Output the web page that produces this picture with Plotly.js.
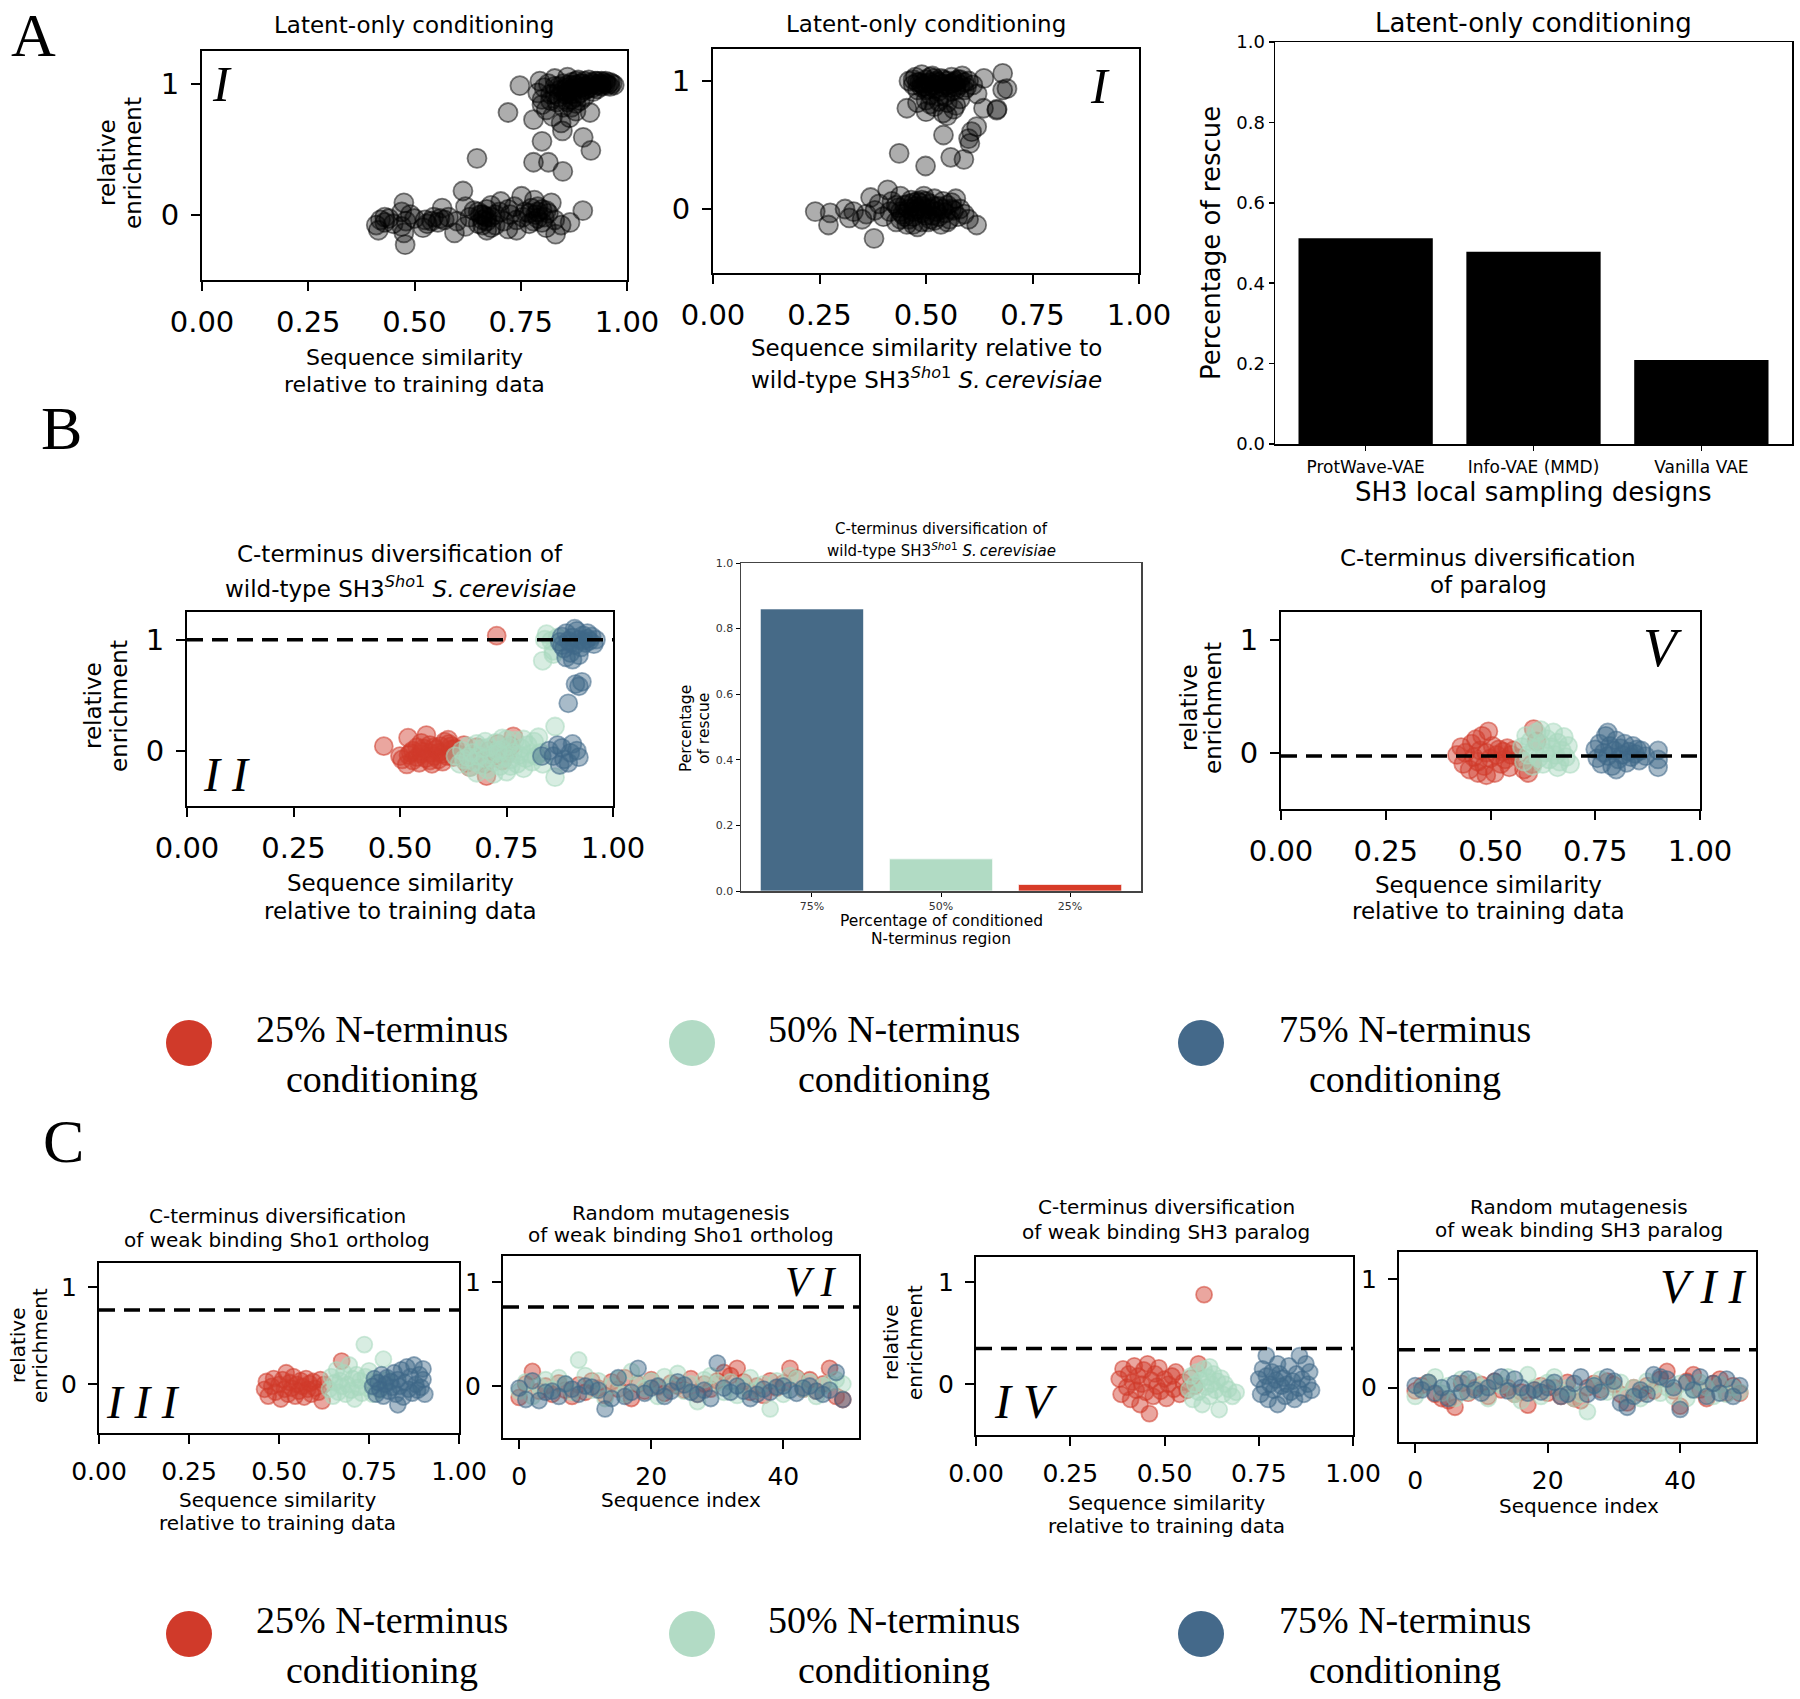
<!DOCTYPE html>
<html><head><meta charset="utf-8">
<script src="https://cdn.plot.ly/plotly-3.0.1.min.js"></script>
<style>html,body{margin:0;padding:0;background:#fff;}#chart{width:1800px;height:1699px;}</style>
</head><body><div id="chart"></div>
<script>
// ---------------- DATA ----------------
const simTickVals = [0, 0.25, 0.5, 0.75, 1];
const simTickText = ['0.00', '0.25', '0.50', '0.75', '1.00'];
const enrTickVals = [0, 1];
const enrTickText = ['0', '1'];
const idxTickVals = [0, 20, 40];
const fracTickVals = [0, 0.2, 0.4, 0.6, 0.8, 1.0];
const fracTickText = ['0.0', '0.2', '0.4', '0.6', '0.8', '1.0'];

// Panel A (I): similarity to training data vs relative enrichment
const a1Points = [
 [0.748,0.985],[0.72,0.78],[0.78,0.725],[0.79,0.93],[0.795,1.02],[0.80,0.88],[0.805,0.97],[0.81,0.80],[0.815,1.0],[0.82,0.92],
 [0.825,0.75],[0.83,0.98],[0.83,1.04],[0.835,0.86],[0.84,0.95],[0.845,0.70],[0.848,0.64],[0.85,1.0],[0.85,0.82],[0.855,0.92],
 [0.86,1.05],[0.86,0.97],[0.865,0.74],[0.87,0.88],[0.87,1.01],[0.875,0.95],[0.88,0.99],[0.88,0.79],[0.885,1.03],[0.89,0.93],
 [0.89,0.97],[0.895,1.0],[0.90,0.90],[0.90,1.02],[0.905,0.96],[0.91,0.99],[0.913,0.78],[0.915,1.01],[0.92,0.97],[0.925,1.02],
 [0.93,0.99],[0.935,1.0],[0.94,0.98],[0.945,1.01],[0.95,1.0],[0.955,0.99],[0.96,1.01],[0.965,1.0],[0.97,0.99],[0.86,0.86],
 [0.84,0.90],[0.80,0.84],[0.87,0.92],[0.92,0.94],[0.88,0.85],[0.90,0.98],[0.91,1.03],[0.94,1.02],[0.93,0.96],[0.87,0.99],
 [0.86,0.99],[0.87,0.96],[0.88,1.02],[0.89,1.0],[0.90,0.95],[0.91,0.97],[0.92,1.0],[0.93,1.02],[0.94,0.99],[0.95,1.02],
 [0.96,0.98],[0.85,0.95],[0.84,0.98],[0.83,0.92],[0.82,0.87],[0.86,0.93],[0.88,0.90],[0.89,0.87],[0.85,0.88],[0.87,0.82],
 [0.647,0.43],[0.80,0.56],[0.78,0.40],[0.815,0.40],[0.849,0.33],[0.897,0.59],[0.915,0.49],
 [0.41,-0.08],[0.415,-0.12],[0.42,-0.04],[0.43,-0.06],[0.44,-0.03],[0.45,-0.07],[0.47,0.02],[0.475,0.09],[0.475,-0.14],[0.478,-0.23],
 [0.48,-0.05],[0.49,0.0],[0.50,-0.03],[0.52,-0.10],[0.525,-0.04],[0.53,-0.07],[0.545,-0.02],[0.555,-0.06],[0.565,0.05],[0.57,-0.04],
 [0.58,-0.02],[0.594,-0.14],[0.60,-0.05],[0.614,0.18],[0.62,0.06],[0.63,-0.02],[0.64,0.03],[0.65,-0.07],[0.655,0.0],[0.66,-0.04],
 [0.664,-0.01],[0.67,0.04],[0.67,-0.12],[0.68,-0.02],[0.69,-0.08],[0.70,0.02],[0.703,0.10],[0.71,-0.05],[0.72,-0.11],[0.725,0.0],
 [0.735,0.06],[0.74,-0.04],[0.752,0.14],[0.755,-0.02],[0.76,0.02],[0.77,-0.07],[0.775,0.05],[0.782,0.11],[0.785,0.0],[0.79,-0.03],
 [0.80,0.04],[0.805,-0.02],[0.81,-0.1],[0.815,0.01],[0.822,0.09],[0.83,-0.04],[0.832,-0.15],[0.845,-0.08],[0.866,-0.06],[0.896,0.03],
 [0.62,-0.09],[0.68,0.07],[0.74,-0.12],[0.66,0.0],[0.67,-0.05],[0.79,0.02],[0.80,-0.06],
 [0.66,-0.08],[0.67,-0.02],[0.68,-0.1],[0.65,0.02],[0.78,-0.05],[0.79,0.06],[0.81,0.03],[0.77,0.01],[0.72,0.04],[0.69,0.0],
 [0.56,-0.03],[0.54,-0.05],[0.47,-0.09],[0.43,-0.02]
];

// Panel A (I): similarity to wild-type vs relative enrichment
const a2Points = [
 [0.46,1.0],[0.47,0.97],[0.475,1.03],[0.48,0.93],[0.485,0.99],[0.49,1.05],[0.495,0.96],[0.50,1.01],[0.50,0.85],[0.505,0.94],
 [0.51,0.99],[0.515,1.04],[0.52,0.97],[0.52,0.80],[0.525,1.0],[0.53,0.92],[0.535,1.02],[0.54,0.98],[0.54,0.75],[0.545,0.88],
 [0.55,1.0],[0.555,0.95],[0.56,1.03],[0.565,0.99],[0.565,0.78],[0.57,0.93],[0.575,1.01],[0.58,0.97],[0.585,1.04],[0.59,0.99],
 [0.595,0.95],[0.60,1.0],[0.61,0.97],[0.62,0.9],[0.48,0.83],[0.50,0.76],[0.53,0.84],[0.55,0.73],[0.51,0.89],[0.58,0.86],
 [0.49,0.98],[0.52,1.02],[0.54,0.95],[0.56,0.98],[0.50,0.93],[0.57,1.0],
 [0.47,1.01],[0.48,0.99],[0.49,0.95],[0.50,0.98],[0.51,1.03],[0.52,0.94],[0.53,0.99],[0.54,1.01],[0.55,0.97],[0.56,0.92],
 [0.57,0.96],[0.58,1.01],[0.59,0.93],[0.53,0.88],[0.51,0.82],[0.55,0.83],[0.57,0.81],
 [0.455,0.787],[0.636,1.02],[0.68,1.06],[0.69,0.94],[0.68,0.93],[0.635,0.787],[0.666,0.773],[0.667,0.78],
 [0.437,0.435],[0.499,0.336],[0.541,0.578],[0.558,0.404],[0.589,0.388],[0.603,0.513],[0.607,0.604],[0.619,0.643],[0.60,0.55],
 [0.24,-0.02],[0.271,-0.125],[0.275,-0.03],[0.31,0.0],[0.32,-0.07],[0.33,-0.02],[0.35,-0.08],[0.36,-0.04],[0.37,0.09],[0.378,-0.23],
 [0.38,-0.01],[0.39,0.04],[0.40,-0.06],[0.41,0.15],[0.415,-0.02],[0.42,0.06],[0.43,-0.1],[0.435,0.01],[0.44,0.1],[0.445,-0.04],
 [0.45,0.03],[0.455,-0.12],[0.46,0.0],[0.465,0.07],[0.47,-0.06],[0.475,0.02],[0.48,-0.14],[0.485,0.05],[0.49,-0.03],[0.495,0.1],
 [0.50,0.0],[0.505,-0.1],[0.51,0.04],[0.515,-0.05],[0.52,0.08],[0.525,-0.02],[0.53,0.02],[0.535,-0.12],[0.54,0.06],[0.545,-0.03],
 [0.55,0.03],[0.555,-0.08],[0.56,0.05],[0.565,-0.01],[0.57,0.08],[0.575,-0.06],[0.58,0.0],[0.59,-0.04],[0.60,-0.08],[0.619,-0.125],
 [0.46,-0.08],[0.48,0.0],[0.50,0.06],[0.47,0.05],[0.52,-0.09],[0.44,-0.02],[0.49,-0.1],[0.51,0.0],
 [0.45,-0.06],[0.46,0.04],[0.47,-0.02],[0.48,0.06],[0.49,0.02],[0.50,-0.05],[0.51,-0.08],[0.52,0.02],[0.53,-0.06],[0.54,0.0],
 [0.55,-0.1],[0.56,0.0],[0.47,-0.12],[0.49,0.07],[0.43,0.03],[0.44,-0.08]
];

// Panel A: percentage of rescue per design
const designNames = ['ProtWave-VAE', 'Info-VAE (MMD)', 'Vanilla VAE'];
const designRescue = [0.512, 0.478, 0.209];

// Panel B (II): wild-type C-terminus diversification
const b1Red = [
 [0.462,0.04],[0.50,-0.05],[0.505,-0.08],[0.516,-0.125],[0.519,0.116],[0.525,-0.02],[0.53,-0.09],[0.54,-0.06],[0.545,-0.11],[0.55,-0.03],
 [0.555,0.02],[0.562,0.14],[0.57,-0.02],[0.575,-0.12],[0.58,-0.05],[0.585,0.01],[0.59,-0.08],[0.595,0.04],[0.60,-0.03],[0.605,0.08],
 [0.613,0.098],[0.615,0.06],[0.621,0.01],[0.625,-0.06],[0.63,0.02],[0.64,-0.04],[0.65,0.05],[0.656,-0.11],[0.664,-0.15],[0.67,-0.05],
 [0.68,0.03],[0.69,-0.08],[0.70,-0.12],[0.703,-0.23],[0.71,0.0],[0.72,-0.05],[0.727,1.036],[0.73,0.06],[0.74,-0.09],[0.75,-0.03],
 [0.766,0.128],[0.76,0.04],[0.55,0.07],[0.60,-0.1],[0.52,-0.04],[0.57,0.05],
 [0.53,0.0],[0.54,0.03],[0.56,-0.07],[0.58,0.03],[0.59,-0.02],[0.61,-0.05],[0.62,0.04],[0.57,-0.09],[0.55,-0.01]
];
const b1Mint = [
 [0.63,-0.05],[0.64,-0.12],[0.645,0.0],[0.65,-0.08],[0.66,0.04],[0.665,-0.15],[0.67,-0.02],[0.675,-0.1],[0.68,0.06],[0.685,-0.05],
 [0.69,-0.13],[0.695,0.02],[0.70,-0.07],[0.705,-0.17],[0.71,0.03],[0.715,-0.04],[0.72,-0.1],[0.725,0.07],[0.73,-0.02],[0.735,-0.14],
 [0.74,0.01],[0.745,-0.06],[0.75,-0.19],[0.755,0.04],[0.76,-0.08],[0.765,-0.02],[0.77,0.09],[0.775,-0.12],[0.78,-0.04],[0.785,0.02],
 [0.79,-0.16],[0.795,-0.07],[0.80,0.05],[0.805,-0.03],[0.81,-0.1],[0.815,0.08],[0.82,-0.05],[0.825,0.12],[0.83,-0.02],[0.835,-0.12],
 [0.70,0.08],[0.72,-0.21],[0.68,-0.2],[0.75,0.1],[0.79,0.1],[0.864,0.217],[0.864,-0.24],[0.835,0.81],[0.86,0.87],[0.844,1.05],
 [0.855,0.99],[0.87,1.02],[0.84,1.0],[0.86,0.9],[0.73,0.0],[0.76,-0.14],[0.66,-0.06],[0.74,0.11]
];
const b1Blue = [
 [0.875,0.98],[0.88,1.03],[0.885,0.92],[0.89,1.06],[0.895,0.99],[0.90,0.88],[0.905,1.02],[0.91,0.95],[0.915,1.08],[0.92,1.0],
 [0.925,0.93],[0.93,1.04],[0.935,0.97],[0.94,1.01],[0.945,0.99],[0.95,1.03],[0.955,0.96],[0.96,1.0],[0.89,0.84],[0.905,0.82],
 [0.92,0.86],[0.88,0.95],[0.91,1.1],[0.94,1.06],[0.90,0.97],[0.93,0.99],
 [0.927,0.62],[0.912,0.60],[0.895,0.426],[0.92,0.58],
 [0.833,-0.05],[0.85,0.0],[0.86,-0.05],[0.87,0.05],[0.88,0.025],[0.885,-0.08],[0.895,-0.11],[0.90,-0.02],[0.915,0.0],[0.92,-0.06],
 [0.875,-0.13],[0.905,0.06]
];

// Panel B: rescue by conditioned N-terminus fraction
const condLabels = ['75%', '50%', '25%'];
const condRescue = [0.86, 0.098, 0.02];

// Panel B (V): paralog
const b3Red = [
 [0.42,-0.02],[0.43,0.05],[0.435,-0.1],[0.44,0.0],[0.45,-0.15],[0.455,0.08],[0.46,-0.04],[0.465,0.12],[0.47,-0.08],[0.475,0.02],
 [0.48,0.15],[0.485,-0.12],[0.49,0.0],[0.495,0.19],[0.50,-0.05],[0.505,0.06],[0.51,-0.18],[0.515,-0.02],[0.52,0.03],[0.525,-0.1],
 [0.53,0.01],[0.535,-0.06],[0.54,0.04],[0.545,-0.13],[0.55,-0.02],[0.555,0.02],[0.47,-0.18],[0.49,-0.2],[0.57,-0.05],[0.58,-0.15],
 [0.59,-0.18],[0.60,-0.1],[0.603,0.21],[0.61,0.1]
];
const b3Mint = [
 [0.575,0.05],[0.58,-0.08],[0.585,0.15],[0.59,-0.02],[0.595,0.1],[0.60,-0.12],[0.605,0.03],[0.61,0.18],[0.615,-0.05],[0.62,0.08],
 [0.625,-0.1],[0.63,0.0],[0.635,0.12],[0.64,-0.06],[0.645,0.05],[0.65,0.18],[0.655,-0.02],[0.66,0.09],[0.665,-0.08],[0.67,0.02],
 [0.675,0.14],[0.68,-0.04],[0.685,0.06],[0.69,-0.1],[0.62,0.2],[0.66,-0.13]
];
const b3Blue = [
 [0.75,0.03],[0.755,-0.05],[0.76,0.08],[0.765,-0.1],[0.77,0.0],[0.775,0.15],[0.78,-0.03],[0.785,0.06],[0.79,-0.12],[0.795,0.02],
 [0.80,0.11],[0.805,-0.06],[0.81,0.04],[0.815,-0.02],[0.82,0.08],[0.825,-0.09],[0.83,0.01],[0.835,-0.04],[0.84,0.06],[0.845,-0.01],
 [0.85,0.03],[0.855,-0.07],[0.86,0.02],[0.87,-0.03],[0.90,0.02],[0.90,-0.06],[0.90,-0.13],[0.78,0.18],[0.80,-0.15]
];

// Panel C (III): weak binding Sho1 ortholog
const c1Red = [
 [0.46,-0.05],[0.465,0.03],[0.47,-0.12],[0.48,-0.02],[0.485,0.06],[0.49,-0.08],[0.50,0.0],[0.505,-0.15],[0.51,0.05],[0.515,-0.05],
 [0.52,0.12],[0.525,-0.1],[0.53,0.02],[0.535,-0.04],[0.54,0.08],[0.545,-0.12],[0.55,0.0],[0.555,-0.07],[0.56,0.04],[0.565,-0.02],
 [0.57,-0.13],[0.575,0.06],[0.58,-0.05],[0.585,0.01],[0.59,-0.1],[0.595,0.03],[0.60,-0.04],[0.61,-0.08],[0.615,0.05],[0.62,-0.17],
 [0.625,0.0],[0.674,0.24]
];
const c1Mint = [
 [0.64,-0.05],[0.645,0.08],[0.65,-0.12],[0.655,0.02],[0.66,0.15],[0.665,-0.08],[0.67,0.04],[0.675,-0.02],[0.68,0.12],[0.685,-0.1],
 [0.69,0.0],[0.695,0.2],[0.70,-0.06],[0.705,0.06],[0.71,-0.15],[0.715,0.1],[0.72,-0.03],[0.725,0.04],[0.73,-0.09],[0.737,0.41],
 [0.74,0.08],[0.745,-0.04],[0.75,0.14],[0.76,-0.1],[0.77,0.02],[0.79,0.26],[0.78,-0.06],[0.80,0.05]
];
const c1Blue = [
 [0.76,-0.02],[0.765,0.06],[0.77,-0.1],[0.775,0.02],[0.78,-0.05],[0.785,0.1],[0.79,-0.12],[0.795,0.0],[0.80,0.07],[0.805,-0.07],
 [0.81,0.03],[0.815,-0.03],[0.82,0.12],[0.825,-0.1],[0.83,0.05],[0.835,-0.02],[0.84,0.15],[0.845,-0.13],[0.85,0.02],[0.855,0.18],
 [0.86,-0.05],[0.865,0.08],[0.87,-0.09],[0.875,0.2],[0.88,0.0],[0.885,-0.06],[0.89,0.1],[0.895,-0.03],[0.90,0.05],[0.905,-0.1],
 [0.90,0.16],[0.83,-0.21]
];

// Panel C (VI): random mutagenesis, Sho1 ortholog (sequence index 0..49)
const seqIndex = [0,1,2,3,4,5,6,7,8,9,10,11,12,13,14,15,16,17,18,19,20,21,22,23,24,25,26,27,28,29,30,31,32,33,34,35,36,37,38,39,40,41,42,43,44,45,46,47,48,49];
const c2Red = [-0.11,0.02,0.14,-0.05,0.0,-0.08,0.03,-0.04,-0.1,0.01,-0.06,0.05,-0.02,-0.09,0.04,-0.03,0.08,-0.12,0.02,-0.05,0.06,-0.01,-0.07,0.03,0.0,-0.04,0.07,-0.08,0.02,-0.03,0.05,0.13,0.1,0.17,0.04,-0.06,0.0,-0.09,0.05,-0.02,0.03,0.17,0.08,-0.03,0.06,-0.05,0.02,0.17,-0.1,-0.13];
const c2Mint = [-0.05,0.04,-0.1,0.0,0.06,-0.03,0.08,0.02,-0.06,0.25,0.1,-0.04,0.05,-0.12,0.0,0.07,-0.08,0.14,0.03,-0.02,0.05,-0.1,0.09,0.0,0.12,-0.05,0.02,-0.15,0.06,0.1,0.03,-0.06,0.04,-0.09,0.0,0.08,-0.04,0.02,-0.22,0.05,-0.08,0.1,0.07,-0.03,0.04,-0.1,0.0,0.03,0.06,0.02];
const c2Blue = [-0.02,-0.13,0.05,-0.14,-0.06,-0.05,-0.1,0.02,-0.03,-0.08,0.0,-0.01,-0.04,-0.22,-0.12,0.08,-0.1,-0.06,0.17,-0.07,-0.02,0.0,-0.1,-0.05,0.04,0.01,-0.06,-0.08,-0.04,-0.12,0.22,-0.02,-0.06,0.0,-0.05,-0.12,-0.08,-0.03,-0.06,-0.01,0.0,-0.04,-0.07,-0.02,0.0,-0.05,-0.08,-0.04,0.13,-0.13];

// Panel C (IV): weak binding SH3 paralog
const c3Red = [
 [0.38,0.05],[0.385,-0.1],[0.39,0.15],[0.40,-0.03],[0.405,0.1],[0.41,-0.15],[0.415,0.02],[0.42,0.18],[0.425,-0.06],[0.43,0.08],
 [0.435,-0.2],[0.44,0.0],[0.445,0.14],[0.45,-0.08],[0.455,0.2],[0.46,-0.29],[0.465,0.04],[0.47,-0.12],[0.475,0.1],[0.48,-0.02],
 [0.485,0.16],[0.49,-0.07],[0.50,0.05],[0.505,-0.14],[0.51,0.0],[0.52,0.08],[0.525,-0.05],[0.53,0.12],[0.54,-0.1],[0.55,0.02],
 [0.56,-0.06],[0.57,0.06],[0.58,-0.02],[0.59,0.2],[0.605,0.88]
];
const c3Mint = [
 [0.565,-0.05],[0.57,0.08],[0.575,-0.15],[0.58,0.0],[0.585,0.12],[0.59,-0.08],[0.595,0.04],[0.60,-0.2],[0.605,0.15],[0.61,-0.03],
 [0.615,0.07],[0.62,-0.12],[0.625,0.0],[0.63,0.1],[0.635,-0.06],[0.64,0.03],[0.645,-0.25],[0.65,0.06],[0.655,-0.1],[0.66,0.0],
 [0.67,-0.05],[0.68,-0.12],[0.69,-0.08],[0.62,0.17]
];
const c3Blue = [
 [0.75,0.05],[0.755,-0.1],[0.76,0.15],[0.765,-0.03],[0.77,0.08],[0.775,-0.15],[0.78,0.0],[0.785,0.12],[0.79,-0.06],[0.795,0.04],
 [0.80,-0.2],[0.805,0.1],[0.81,-0.02],[0.815,0.06],[0.82,-0.12],[0.825,0.0],[0.83,0.18],[0.835,-0.08],[0.84,0.03],[0.845,-0.15],
 [0.85,0.1],[0.855,-0.04],[0.858,0.28],[0.865,0.05],[0.87,-0.1],[0.875,0.2],[0.88,0.0],[0.885,0.12],[0.89,-0.06],[0.77,0.28],[0.80,0.2]
];

// Panel C (VII): random mutagenesis, SH3 paralog
const c4Red = [-0.03,0.02,0.05,-0.06,-0.1,-0.12,-0.18,0.04,-0.05,0.0,0.03,-0.08,0.06,-0.02,0.0,-0.06,-0.04,-0.16,-0.02,0.02,-0.05,0.0,-0.08,0.05,-0.1,-0.12,0.0,0.04,-0.02,0.06,0.03,-0.06,-0.14,0.0,-0.05,0.02,-0.03,0.08,0.15,-0.03,-0.17,0.06,0.12,-0.02,-0.1,0.04,0.08,-0.05,0.02,-0.05];
const c4Mint = [-0.08,0.0,0.05,0.1,-0.05,0.02,-0.1,0.08,-0.04,0.06,0.0,-0.1,0.04,0.02,0.1,-0.06,-0.12,0.12,0.0,-0.08,0.05,0.1,-0.04,0.0,-0.1,-0.06,-0.22,0.02,0.08,-0.04,0.0,0.05,-0.08,0.0,-0.1,0.06,0.02,-0.05,0.0,-0.08,0.04,-0.1,-0.02,0.05,0.0,-0.08,0.03,-0.06,0.0,-0.04];
const c4Blue = [0.02,-0.02,0.05,-0.05,0.0,-0.1,0.04,-0.04,0.08,-0.02,-0.05,0.0,0.06,0.1,-0.03,0.08,0.0,-0.05,-0.02,-0.04,0.0,0.05,-0.08,-0.06,0.04,0.1,-0.06,0.02,-0.04,0.1,0.06,-0.14,-0.18,-0.08,-0.02,-0.06,0.12,0.1,0.08,0.0,-0.2,0.05,-0.02,0.1,-0.08,0.04,-0.05,0.08,-0.08,0.02];

// Reference (wild-type) enrichment thresholds (dashed lines)
const thrB1 = 1.0, thrB3 = -0.03, thrC1 = 0.765, thrC2 = 0.76, thrC3 = 0.35, thrC4 = 0.35;

const legendLabels = ['25% N-terminus', '50% N-terminus', '75% N-terminus'];

// ---------------- STYLE / LAYOUT ----------------
const W = 1800, H = 1699;
const SANS = 'DejaVu Sans, Verdana, sans-serif';
const SERIF = 'Liberation Serif, Times New Roman, serif';
const RED = [208,58,42], MINT = [168,216,190], BLUE = [63,104,136];
const rgba = (c, a) => `rgba(${c[0]},${c[1]},${c[2]},${a})`;

// pixel boxes [left,right,top,bottom]
const boxes = {
  1: [202, 627, 51, 280],
  2: [713, 1139, 49, 273],
  3: [1275, 1792, 42, 444],
  4: [187, 613, 612, 806],
  5: [741, 1141, 563, 891],
  6: [1281, 1700, 612, 809],
  7: [99, 459, 1263, 1433],
  8: [503, 859, 1256, 1438],
  9: [976, 1353, 1257, 1435],
  10: [1399, 1756, 1252, 1442]
};

const layout = {
  width: W, height: H, margin: {l: 0, r: 0, t: 0, b: 0},
  paper_bgcolor: '#fff', plot_bgcolor: '#fff', showlegend: false,
  annotations: [], shapes: []
};

function axisPair(n, xo, yo) {
  const b = boxes[n];
  const base = {
    showline: true, mirror: true, linecolor: '#000', linewidth: 2,
    ticks: 'outside', tickcolor: '#000', tickwidth: 2, ticklen: 9,
    showgrid: false, zeroline: false, fixedrange: true
  };
  const xn = n === 1 ? 'xaxis' : 'xaxis' + n;
  const yn = n === 1 ? 'yaxis' : 'yaxis' + n;
  layout[xn] = Object.assign({}, base, {domain: [b[0] / W, b[1] / W], anchor: 'y' + (n === 1 ? '' : n)}, xo);
  layout[yn] = Object.assign({}, base, {domain: [1 - b[3] / H, 1 - b[2] / H], anchor: 'x' + (n === 1 ? '' : n)}, yo);
}

const simX = (size) => ({range: [0, 1], tickvals: simTickVals, ticktext: simTickText, tickfont: {family: SANS, size: size, color: '#000'}, ticklabelstandoff: 6});
const enrY = (size) => ({range: [-0.5, 1.25], tickvals: enrTickVals, ticktext: enrTickText, tickfont: {family: SANS, size: size, color: '#000'}, ticklabelstandoff: 6});
const idxX = (size) => ({range: [-2.45, 51.45], tickvals: idxTickVals, tickfont: {family: SANS, size: size, color: '#000'}, ticklabelstandoff: 6});

axisPair(1, simX(29), enrY(29));
axisPair(2, simX(29), enrY(29));
axisPair(3, {type: 'category', range: [-0.54, 2.54], ticklen: 5, tickwidth: 1.5, linewidth: 1.5, tickfont: {family: SANS, size: 17, color: '#000'}, ticklabelstandoff: 2},
            {range: [0, 1], tickvals: fracTickVals, ticktext: fracTickText, ticklen: 5, tickwidth: 1.5, linewidth: 1.5, tickfont: {family: SANS, size: 18, color: '#000'}});
axisPair(4, simX(29), enrY(29));
axisPair(5, {type: 'category', range: [-0.55, 2.55], ticklen: 4, tickwidth: 1, linewidth: 1.5, linecolor: '#444', tickfont: {family: SANS, size: 11, color: '#333'}},
            {range: [0, 1], tickvals: fracTickVals, ticktext: fracTickText, ticklen: 4, tickwidth: 1, linewidth: 1.5, linecolor: '#444', tickfont: {family: SANS, size: 11, color: '#333'}});
axisPair(6, simX(29), enrY(29));
axisPair(7, simX(25), enrY(25));
axisPair(8, idxX(25), enrY(25));
axisPair(9, simX(25), enrY(25));
axisPair(10, idxX(25), enrY(25));

// ---------------- TRACES ----------------
const traces = [];
function scat(n, xs, ys, fill, edge, size) {
  const s = n === 1 ? '' : n;
  traces.push({type: 'scatter', mode: 'markers', x: xs, y: ys, xaxis: 'x' + s, yaxis: 'y' + s,
    hoverinfo: 'skip', cliponaxis: true,
    marker: {size: size, color: fill, line: {color: edge, width: 1.8}}});
}
function scatPts(n, pts, col, size) {
  scat(n, pts.map(p => p[0]), pts.map(p => p[1]), rgba(col, 0.45), rgba(col, 0.55), size);
}
scat(1, a1Points.map(p => p[0]), a1Points.map(p => p[1]), 'rgba(0,0,0,0.32)', 'rgba(0,0,0,0.5)', 19);
scat(2, a2Points.map(p => p[0]), a2Points.map(p => p[1]), 'rgba(0,0,0,0.32)', 'rgba(0,0,0,0.5)', 19);

traces.push({type: 'bar', x: designNames, y: designRescue, xaxis: 'x3', yaxis: 'y3', width: 0.8,
  marker: {color: '#000', line: {color: '#000', width: 0}}, hoverinfo: 'skip'});

scatPts(4, b1Red, RED, 18); scatPts(4, b1Mint, MINT, 18); scatPts(4, b1Blue, BLUE, 18);

traces.push({type: 'bar', x: condLabels, y: condRescue, xaxis: 'x5', yaxis: 'y5', width: 0.8,
  marker: {color: ['#466a87', '#b1dbc4', '#d73b28'], line: {color: 'rgba(255,255,255,0.7)', width: 1}}, hoverinfo: 'skip'});

scatPts(6, b3Red, RED, 18); scatPts(6, b3Mint, MINT, 18); scatPts(6, b3Blue, BLUE, 18);
scatPts(7, c1Red, RED, 16); scatPts(7, c1Mint, MINT, 16); scatPts(7, c1Blue, BLUE, 16);
scat(8, seqIndex, c2Red, rgba(RED, 0.45), rgba(RED, 0.55), 16);
scat(8, seqIndex, c2Mint, rgba(MINT, 0.45), rgba(MINT, 0.55), 16);
scat(8, seqIndex, c2Blue, rgba(BLUE, 0.45), rgba(BLUE, 0.55), 16);
scatPts(9, c3Red, RED, 16); scatPts(9, c3Mint, MINT, 16); scatPts(9, c3Blue, BLUE, 16);
scat(10, seqIndex, c4Red, rgba(RED, 0.45), rgba(RED, 0.55), 16);
scat(10, seqIndex, c4Mint, rgba(MINT, 0.45), rgba(MINT, 0.55), 16);
scat(10, seqIndex, c4Blue, rgba(BLUE, 0.45), rgba(BLUE, 0.55), 16);

// dashed reference lines
function dashLine(n, yv) {
  layout.shapes.push({type: 'line', xref: 'x' + n + ' domain', yref: 'y' + n, x0: 0, x1: 1, y0: yv, y1: yv,
    line: {color: '#000', width: 3.5, dash: '16px,9px'}, layer: 'above'});
}
dashLine(4, thrB1); dashLine(6, thrB3); dashLine(7, thrC1); dashLine(8, thrC2); dashLine(9, thrC3); dashLine(10, thrC4);

// ---------------- TEXT ----------------
function T(text, px, py, size, extra) {
  layout.annotations.push(Object.assign({
    text: text, x: px / W, y: 1 - py / H, xref: 'paper', yref: 'paper', showarrow: false,
    xanchor: 'center', yanchor: 'middle', font: {family: SANS, size: size, color: '#000'}
  }, extra || {}));
}
const rot = {textangle: -90};
const wt = 'wild-type SH3<sup><i>Sho</i>1</sup> <i>S.\u2009cerevisiae</i>';

// Panel letters
T('A', 33, 35, 62, {font: {family: SERIF, size: 62, color: '#000'}});
T('B', 61, 428, 62, {font: {family: SERIF, size: 62, color: '#000'}});
T('C', 63, 1141, 62, {font: {family: SERIF, size: 62, color: '#000'}});

// A1
T('Latent-only conditioning', 414, 25, 23);
T('Sequence similarity', 414, 357, 22);
T('relative to training data', 414, 384, 22);
T('relative', 107, 163, 23, rot);
T('enrichment', 133, 163, 23, rot);
// A2
T('Latent-only conditioning', 926, 24, 23);
T('Sequence similarity relative to', 926, 348, 23);
T(wt, 926, 378, 23);
// A3
T('Latent-only conditioning', 1533, 23, 26);
T('Percentage of rescue', 1211, 243, 26, rot);
T('SH3 local sampling designs', 1533, 492, 26);
// B1
T('C-terminus diversification of', 400, 554, 23);
T(wt, 400, 587, 23);
T('Sequence similarity', 400, 883, 23);
T('relative to training data', 400, 911, 23);
T('relative', 93, 706, 23, rot);
T('enrichment', 119, 706, 23, rot);
// B2
T('C-terminus diversification of', 941, 529, 15);
T(wt, 941, 550, 15);
T('Percentage of conditioned', 941, 921, 15.5);
T('N-terminus region', 941, 939, 15.5);
T('Percentage', 686, 729, 15.5, rot);
T('of rescue', 704, 729, 15.5, rot);
// B3
T('C-terminus diversification', 1488, 558, 23);
T('of paralog', 1488, 585, 23);
T('Sequence similarity', 1488, 885, 23);
T('relative to training data', 1488, 911, 23);
T('relative', 1189, 708, 23, rot);
T('enrichment', 1213, 708, 23, rot);
// C1
T('C-terminus diversification', 277, 1216, 20);
T('of weak binding Sho1 ortholog', 277, 1240, 20);
T('Sequence similarity', 277, 1500, 20);
T('relative to training data', 277, 1523, 20);
T('relative', 18, 1346, 20, rot);
T('enrichment', 40, 1346, 20, rot);
// C2
T('Random mutagenesis', 681, 1213, 20);
T('of weak binding Sho1 ortholog', 681, 1235, 20);
T('Sequence index', 681, 1500, 20);
// C3
T('C-terminus diversification', 1166, 1207, 20);
T('of weak binding SH3 paralog', 1166, 1232, 20);
T('Sequence similarity', 1166, 1503, 20);
T('relative to training data', 1166, 1526, 20);
T('relative', 891, 1343, 20, rot);
T('enrichment', 915, 1343, 20, rot);
// C4
T('Random mutagenesis', 1579, 1207, 20);
T('of weak binding SH3 paralog', 1579, 1230, 20);
T('Sequence index', 1579, 1506, 20);

// Roman numerals
const numFont = (s) => ({font: {family: SERIF, size: s, color: '#000'}});
T('<i>I</i>', 222, 84, 50, numFont(50));
T('<i>I</i>', 1100, 86, 50, numFont(50));
T('<i>I I</i>', 226, 774, 48, numFont(48));
T('<i>V</i>', 1662, 647, 55, numFont(55));
T('<i>I I I</i>', 143, 1402, 47, numFont(47));
T('<i>V I</i>', 810, 1282, 42, numFont(42));
T('<i>I V</i>', 1025, 1401, 48, numFont(48));
T('<i>V I I</i>', 1703, 1286, 48, numFont(48));

// Legends (two identical rows)
const legSolid = ['#d03a2a', '#b2dbc5', '#44698a'];
const legCircleX = [189, 692, 1201];
const legTextX = [382, 894, 1405];
[[1043, 1029, 1079], [1634, 1620, 1670]].forEach(row => {
  for (let i = 0; i < 3; i++) {
    const cx = legCircleX[i], cy = row[0], r = 23;
    layout.shapes.push({type: 'circle', xref: 'paper', yref: 'paper',
      x0: (cx - r) / W, x1: (cx + r) / W, y0: 1 - (cy + r) / H, y1: 1 - (cy - r) / H,
      fillcolor: legSolid[i], line: {width: 0}});
    T(legendLabels[i], legTextX[i], row[1], 38, numFont(38));
    T('conditioning', legTextX[i], row[2], 38, numFont(38));
  }
});

Plotly.newPlot('chart', traces, layout, {staticPlot: true, displayModeBar: false});
</script>
</body></html>
